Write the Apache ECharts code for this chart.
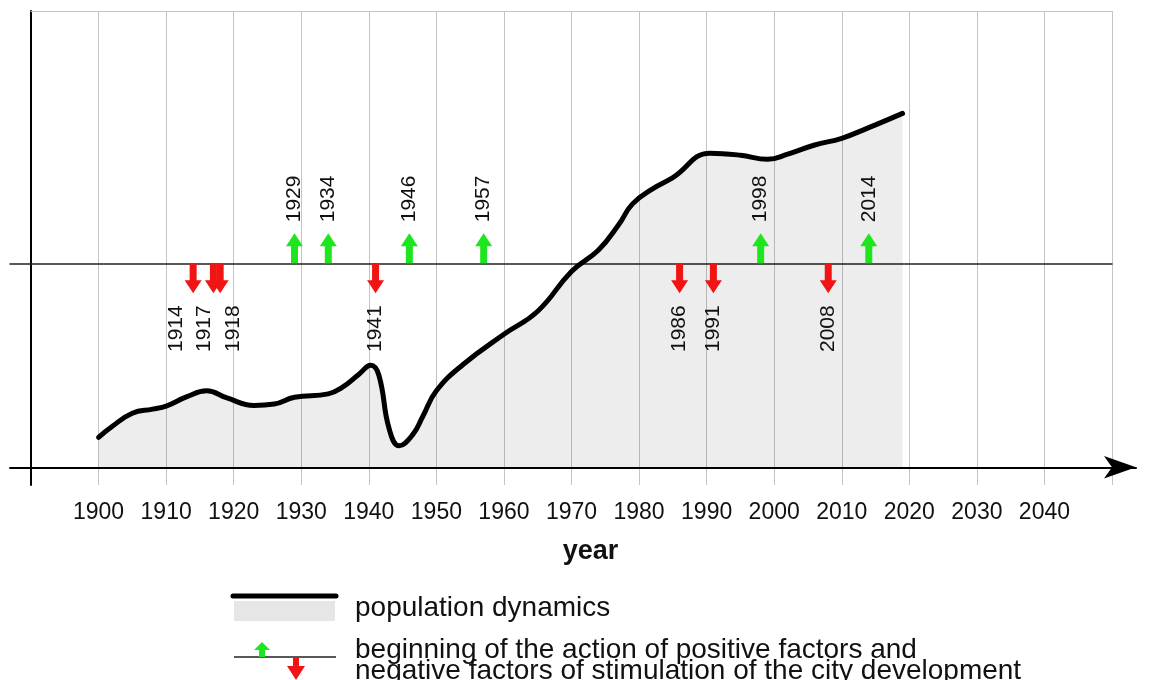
<!DOCTYPE html>
<html>
<head>
<meta charset="utf-8">
<script src="https://cdn.jsdelivr.net/npm/echarts@6.0.0/dist/echarts.min.js"></script>
<style>
  html, body { margin: 0; padding: 0; background: #fff; }
  #main { width: 1153px; height: 680px; }
</style>
</head>
<body>
<div id="main"></div>
<script>
// population curve, arbitrary units (100 = the middle line)
const years = [1900, 1902, 1905, 1908, 1910, 1913, 1916, 1919, 1923, 1926, 1929, 1934, 1936, 1938.5,
  1940.3, 1941.5, 1943, 1944.5, 1946.5, 1948, 1950, 1954, 1960, 1965, 1970, 1974,
  1977, 1979, 1982, 1985, 1990.5, 1995, 1999, 2002, 2006, 2010, 2014, 2019];
const population = [14.7, 20, 26.5, 28.5, 30, 34.5, 37.5, 34, 30.3, 31, 34.3, 36, 39, 45.5,
  50, 45, 19, 10.5, 16, 25, 37.5, 50.5, 65.2, 76.5, 96, 106.5,
  119, 129, 136.5, 142, 154, 153, 151, 153.5, 158, 161.3, 166.5, 173.5];

// years of the arrows
const positiveYears = [1929, 1934, 1946, 1957, 1998, 2014];
const negativeYears = [1914, 1917, 1918, 1941, 1986, 1991, 2008];
const baseLevel = 100;

const legendTexts = [
  "population dynamics",
  "beginning of the action of positive factors and",
  "negative factors of stimulation of the city development",
];

const GREEN = "#1ee61e";
const RED = "#f01414";
const UP = "path://M8.5,0 L17,13 L12,13 L12,30 L5,30 L5,13 L0,13 Z";
const DOWN = "path://M5,0 L12,0 L12,17 L17,17 L8.5,30 L0,17 L5,17 Z";
const FONT = "'Liberation Sans', Arial, sans-serif";
const NARROW = "'Liberation Sans Narrow', 'Arial Narrow', 'Liberation Sans', sans-serif";
const yMin = -8.7;
const yMax = 223.7;

// crowded labels 1914/1917/1918 are pushed apart
const labelShift = { 1914: -17, 1917: -9, 1918: 13 };

const hidden = {
  axisTick: { show: false },
  axisLabel: { show: false },
  splitLine: { show: false },
};

const chart = echarts.init(document.getElementById("main"));
chart.setOption({
  animation: false,
  grid: [
    { left: 31, right: 41, top: 11, bottom: 195 },
    { left: 10, right: 17, top: 11, bottom: 195 },
    { left: 10, right: 41, top: 11, bottom: 195 },
  ],
  xAxis: [
    {
      gridIndex: 0,
      type: "value",
      min: 1890,
      max: 2050,
      interval: 10,
      axisLine: { show: false, onZero: false },
      axisTick: { show: false },
      splitLine: { show: true, lineStyle: { color: "#c4c4c4", width: 1 } },
      axisLabel: {
        showMinLabel: false,
        showMaxLabel: false,
        formatter: (v) => String(v),
        fontSize: 23,
        fontFamily: FONT,
        color: "#111",
        margin: 16,
      },
      name: "year",
      nameLocation: "middle",
      nameGap: 53,
      nameTextStyle: {
        fontSize: 27,
        fontWeight: "bold",
        fontFamily: FONT,
        color: "#111",
        padding: [0, 0, 0, 38],
      },
    },
    {
      gridIndex: 0,
      type: "value",
      position: "top",
      min: 1890,
      max: 2050,
      axisLine: { show: true, onZero: false, lineStyle: { color: "#c4c4c4", width: 1 } },
      ...hidden,
    },
    {
      gridIndex: 1,
      type: "value",
      min: 0,
      max: 1,
      axisLine: {
        show: true,
        onZero: true,
        symbol: ["none", "arrow"],
        symbolSize: [17, 32],
        lineStyle: { color: "#000", width: 2 },
      },
      ...hidden,
    },
    {
      gridIndex: 2,
      type: "value",
      min: 0,
      max: 1,
      axisLine: { show: true, onZero: true, lineStyle: { color: "#222", width: 1.5 } },
      ...hidden,
    },
  ],
  yAxis: [
    {
      gridIndex: 0,
      type: "value",
      min: yMin,
      max: yMax,
      axisLine: { show: true, onZero: false, lineStyle: { color: "#000", width: 2 } },
      ...hidden,
    },
    {
      gridIndex: 1,
      type: "value",
      min: yMin,
      max: yMax,
      axisLine: { show: false, onZero: false },
      ...hidden,
    },
    {
      gridIndex: 2,
      type: "value",
      min: yMin - baseLevel,
      max: yMax - baseLevel,
      axisLine: { show: false, onZero: false },
      ...hidden,
    },
  ],
  series: [
    {
      name: legendTexts[0],
      type: "line",
      xAxisIndex: 0,
      yAxisIndex: 0,
      data: years.map((y, i) => [y, population[i]]),
      smooth: 0.45,
      showSymbol: false,
      lineStyle: { color: "#000", width: 5, cap: "round", join: "round" },
      areaStyle: { color: "rgba(0,0,0,0.1)" },
      z: 3,
    },
    {
      type: "scatter",
      xAxisIndex: 0,
      yAxisIndex: 0,
      data: positiveYears.map((y) => [y, baseLevel]),
      symbol: UP,
      symbolSize: [17, 30],
      symbolOffset: [0, "-50%"],
      itemStyle: { color: GREEN, opacity: 1 },
      label: {
        show: true,
        position: "top",
        distance: 11,
        rotate: 90,
        align: "left",
        verticalAlign: "middle",
        formatter: (p) => p.value[0],
        fontSize: 21,
        fontFamily: NARROW,
        color: "#111",
      },
      z: 4,
    },
    {
      type: "scatter",
      xAxisIndex: 0,
      yAxisIndex: 0,
      data: negativeYears.map((y) => ({
        value: [y, baseLevel],
        label: { offset: [0, labelShift[y] || 0] },
      })),
      symbol: DOWN,
      symbolSize: [17, 30],
      symbolOffset: [0, "50%"],
      itemStyle: { color: RED, opacity: 1 },
      label: {
        show: true,
        position: "bottom",
        distance: 12,
        rotate: 90,
        align: "right",
        verticalAlign: "middle",
        formatter: (p) => p.value[0],
        fontSize: 21,
        fontFamily: NARROW,
        color: "#111",
      },
      z: 4,
    },
  ],
  graphic: [
    { type: "line", shape: { x1: 233, y1: 596, x2: 336, y2: 596 }, style: { stroke: "#000", lineWidth: 5, lineCap: "round" } },
    { type: "rect", shape: { x: 234, y: 601, width: 101, height: 20 }, style: { fill: "#e6e6e6" } },
    { type: "text", x: 355, y: 608, style: { text: legendTexts[0], font: "28px " + FONT, fill: "#111", verticalAlign: "middle" } },
    { type: "line", shape: { x1: 234, y1: 657, x2: 336, y2: 657 }, style: { stroke: "#222", lineWidth: 1.5 } },
    {
      type: "polygon",
      shape: { points: [[262, 642], [270, 650], [265, 650], [265, 657], [259, 657], [259, 650], [254, 650]] },
      style: { fill: GREEN },
    },
    {
      type: "polygon",
      shape: { points: [[293, 658], [299, 658], [299, 666], [305, 666], [296, 680], [287, 666], [293, 666]] },
      style: { fill: RED },
    },
    { type: "text", x: 355, y: 650, style: { text: legendTexts[1], font: "28px " + FONT, fill: "#111", verticalAlign: "middle" } },
    { type: "text", x: 355, y: 671, style: { text: legendTexts[2], font: "28px " + FONT, fill: "#111", verticalAlign: "middle" } },
  ],
});
</script>
</body>
</html>
